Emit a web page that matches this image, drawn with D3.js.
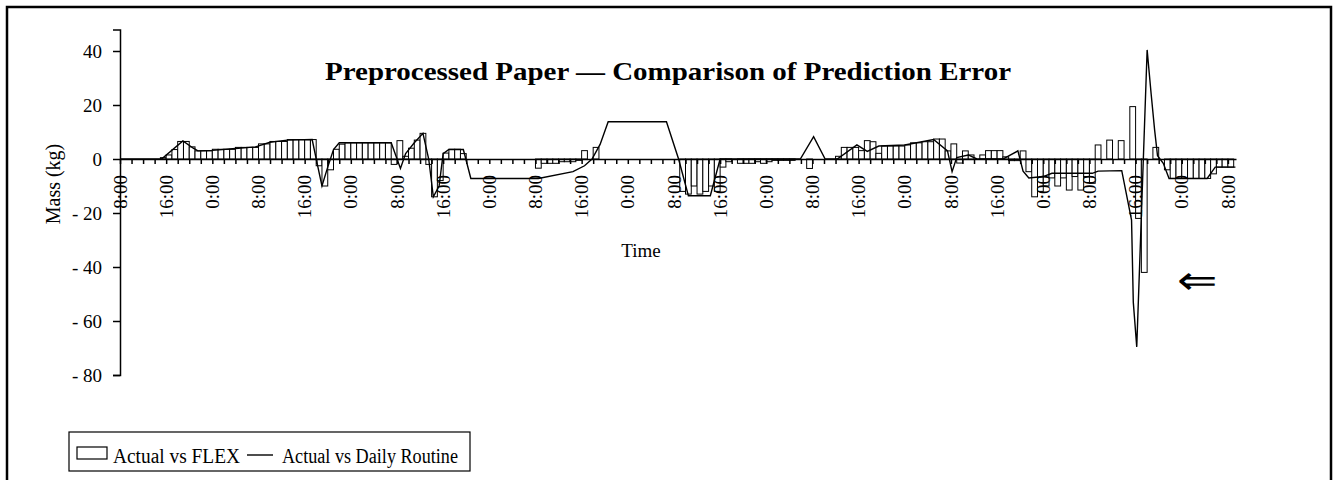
<!DOCTYPE html>
<html>
<head>
<meta charset="utf-8">
<script src="https://cdn.jsdelivr.net/npm/d3@7"></script>
<style>
  body { margin: 0; background: #fff; }
</style>
</head>
<body>
<script>
const width = 1333;
const height = 480;

// Actual vs FLEX error (kg), one column per hour starting at 8:00 on day 1
const flexError = [
  0, 0, 0, 0, 0, 0, 0, 0.5,
  1.5, 3.5, 6.5, 6.5, 4.5, 3, 3, 3,
  3.6, 3.6, 3.6, 3.6, 4.3, 4.3, 4.3, 4.3,
  5.6, 5.6, 6.5, 6.5, 6.5, 7.2, 7.2, 7.2,
  7.2, 7.2, -2.5, -10, -4, 3.6, 5.5, 6,
  6, 6, 6, 6, 6, 6, 6, -2,
  6.8, 1, 4, 7, 9.5, -2, -14, -8,
  2.2, 3.6, 3.6, 2, 0, 0, 0, 0,
  0, 0, 0, 0, 0, 0, 0, 0,
  -3.4, -1.6, -1.6, -1.6, -1, -1, -1, -0.5,
  3.1, 0, 4.3, 0, 0, 0, 0, 0,
  0, 0, 0, 0, 0, 0, 0, 0,
  0, -12, -13, -10, -13, -12, -10, -12,
  -3, -1, 0, -1.6, -1.6, -1.6, -1, -1.6,
  -1, -0.5, -0.5, -0.5, -0.5, 0, 0, -3.5,
  0, 0, 0, 0, 1, 4.3, 4.3, 4.3,
  3.1, 6.8, 6.4, 2.1, 4.8, 4.8, 4.8, 4.8,
  5.2, 6, 6, 6.4, 6.4, 7.4, 7.4, 3,
  5.6, -1.5, 3, 1.5, 0, 1.5, 3.1, 3.1,
  3.1, 0.8, -0.6, -0.6, 3, -4.7, -14, -12,
  -10, -7, -10, -7, -11.5, -6.5, -11.5, -6.5,
  -9, 5.2, 0, 7, 0, 6.8, 0, 19.4,
  -22, -42, 0, 4.3, 0, -4, -7.2, -7.2,
  -7.2, -7.2, -7.2, -7.2, -7.2, -5.5, -3, -3,
  -3,
];

// Actual vs Daily Routine error, line vertices (hours from 8:00 day 1, kg)
const routineHours = [
  0, 7.2, 10.9, 12.7, 13.5, 16, 19.5, 23.5, 26, 29, 33.3, 34.2, 35, 36, 37, 38,
  47, 48.6, 49.5, 51, 52.5, 53.5, 54.3, 55.3, 56, 57, 59.5, 60.8, 72.5, 78.5,
  80.5, 81.8, 83.2, 84.6, 94.7, 96.8, 98.5, 102.3, 104, 117.9, 120.2, 122.2,
  124.3, 127.7, 129.5, 131.5, 136, 141, 143.4, 144.2, 145, 147, 148.5, 153,
  155.6, 156.5, 157.5, 160, 161.5, 168.5, 169.5, 173.6, 175.3, 175.6, 176.2,
  177, 178, 178.7, 179.3, 179.8, 180.8, 181.8, 188.4, 189.8, 193.3,
];
const routineValues = [
  0, 0, 6.7, 4, 3, 3.2, 3.8, 4.5, 6.2, 7, 7.2, -2, -10, -3, 3.5, 6,
  6, -3.5, 2, 6, 9.5, 0, -14, -10, 2, 3.5, 3.5, -7.2, -7.2, -4.7,
  -2.5, 0, 5.4, 13.8, 13.8, 0, -13.6, -13.6, 0, 0, 8.3, 0,
  0, 5.2, 2.8, 4.8, 5.2, 7.2, 3, -4.7, 0.5, 1.5, 0, 0,
  3, -4.5, -7, -6.5, -5.3, -5.3, -4.5, -4.3, -22.6, -53, -69.6,
  -21, 40.4, 24, 10.7, 1.2, -1.6, -7.2, -7.2, -3, -3,
];

const yTicks = [40, 20, 0, -20, -40, -60, -80];
const xTickLabels = [
  '8:00', '16:00', '0:00', '8:00', '16:00', '0:00', '8:00', '16:00', '0:00',
  '8:00', '16:00', '0:00', '8:00', '16:00', '0:00', '8:00', '16:00', '0:00',
  '8:00', '16:00', '0:00', '8:00', '16:00', '0:00', '8:00',
];

const svg = d3
  .select('body')
  .append('svg')
  .attr('width', width)
  .attr('height', height)
  .style('display', 'block');

// outer frame (bottom edge runs off the picture)
svg
  .append('rect')
  .attr('x', 7)
  .attr('y', 7)
  .attr('width', 1324)
  .attr('height', 490)
  .attr('fill', 'none')
  .attr('stroke', '#000')
  .attr('stroke-width', 2.5);

const x = d3.scaleLinear().domain([0, 193.4]).range([120, 1236]);
const y = d3.scaleLinear().domain([-80, 48]).range([375, 29.4]);

const serif = 'Liberation Serif, Times New Roman, serif';

// columns: Actual vs FLEX
svg
  .append('g')
  .selectAll('rect')
  .data(flexError)
  .join('rect')
  .attr('x', (d, i) => x(i))
  .attr('y', (d) => y(Math.max(0, d)))
  .attr('width', x(1) - x(0))
  .attr('height', (d) => Math.abs(y(d) - y(0)))
  .attr('fill', '#fff')
  .attr('stroke', '#000')
  .attr('stroke-width', 1);

// y axis
const yAxis = svg
  .append('g')
  .attr('transform', `translate(${x(0)},0)`)
  .call(d3.axisLeft(y).tickValues(yTicks).tickSize(7).tickPadding(11).tickFormat((d) => (d < 0 ? '- ' + -d : d)));
yAxis.select('.domain').attr('stroke-width', 1.5);
yAxis.selectAll('line').attr('stroke-width', 1.5);
yAxis
  .selectAll('text')
  .style('font-family', serif)
  .style('font-size', '19px')
  .attr('fill', '#000');

// x axis: ticks every 2 h, labels every 8 h
const xAxis = svg
  .append('g')
  .attr('transform', `translate(0,${y(0)})`)
  .call(
    d3
      .axisBottom(x)
      .tickValues(d3.range(0, 194, 2))
      .tickSize(5)
      .tickSizeOuter(0)
      .tickFormat(() => '')
  );
xAxis.select('.domain').attr('stroke-width', 1.5);
xAxis.selectAll('line').attr('stroke-width', 1.5);

svg
  .append('g')
  .selectAll('text')
  .data(xTickLabels)
  .join('text')
  .attr('transform', (d, i) => `translate(${x(i * 8)},175) rotate(-90)`)
  .attr('text-anchor', 'end')
  .attr('dy', '0.35em')
  .style('font-family', serif)
  .style('font-size', '19px')
  .text((d) => d);

// line: Actual vs Daily Routine
const line = d3
  .line()
  .x((d, i) => x(routineHours[i]))
  .y((d) => y(d));

svg
  .append('path')
  .datum(routineValues)
  .attr('d', line)
  .attr('fill', 'none')
  .attr('stroke', '#000')
  .attr('stroke-width', 1.4);

// title
svg
  .append('text')
  .attr('x', 668)
  .attr('y', 80)
  .attr('text-anchor', 'middle')
  .attr('textLength', 686)
  .attr('lengthAdjust', 'spacingAndGlyphs')
  .style('font-family', serif)
  .style('font-weight', 'bold')
  .style('font-size', '25px')
  .text('Preprocessed Paper \u2014 Comparison of Prediction Error');

// axis titles
svg
  .append('text')
  .attr('x', 641)
  .attr('y', 257)
  .attr('text-anchor', 'middle')
  .style('font-family', serif)
  .style('font-size', '19px')
  .text('Time');

svg
  .append('text')
  .attr('transform', 'translate(53,184) rotate(-90)')
  .attr('text-anchor', 'middle')
  .attr('dy', '0.35em')
  .style('font-family', serif)
  .style('font-size', '20px')
  .text('Mass (kg)');

// arrow marking the spike
svg
  .append('text')
  .attr('x', 1177)
  .attr('y', 280)
  .attr('dominant-baseline', 'central')
  .attr('textLength', 41)
  .attr('lengthAdjust', 'spacingAndGlyphs')
  .style('font-family', 'DejaVu Sans')
  .style('font-weight', 300)
  .style('font-size', '40px')
  .text('\u21D0');

// legend
const legend = svg.append('g');
legend
  .append('rect')
  .attr('x', 69)
  .attr('y', 432)
  .attr('width', 401)
  .attr('height', 39)
  .attr('fill', '#fff')
  .attr('stroke', '#000')
  .attr('stroke-width', 1.2);
legend
  .append('rect')
  .attr('x', 77)
  .attr('y', 447)
  .attr('width', 30)
  .attr('height', 12)
  .attr('fill', '#fff')
  .attr('stroke', '#000')
  .attr('stroke-width', 1.2);
legend
  .append('text')
  .attr('x', 113)
  .attr('y', 463)
  .attr('textLength', 127)
  .attr('lengthAdjust', 'spacingAndGlyphs')
  .style('font-family', serif)
  .style('font-size', '20px')
  .text('Actual vs FLEX');
legend
  .append('line')
  .attr('x1', 247)
  .attr('x2', 273)
  .attr('y1', 455)
  .attr('y2', 455)
  .attr('stroke', '#000')
  .attr('stroke-width', 1.4);
legend
  .append('text')
  .attr('x', 282)
  .attr('y', 463)
  .attr('textLength', 176)
  .attr('lengthAdjust', 'spacingAndGlyphs')
  .style('font-family', serif)
  .style('font-size', '20px')
  .text('Actual vs Daily Routine');
</script>
</body>
</html>
